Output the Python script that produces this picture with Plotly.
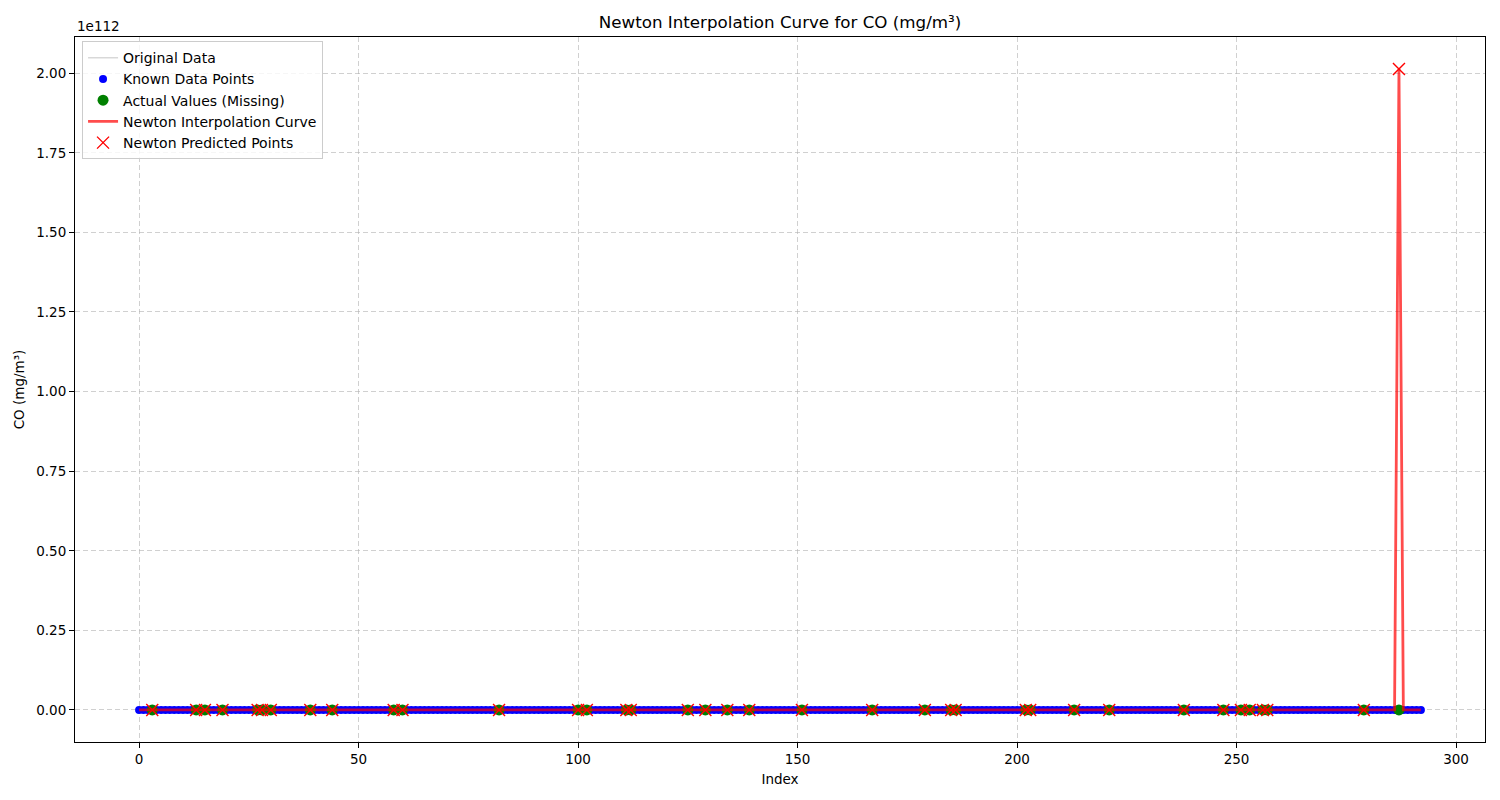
import plotly.graph_objects as go

# CO readings (mg/m³) by index
co_values = [
    1.2, 1.1, 1.0, 0.9, 0.8, 0.9, 1.1, 1.4, 1.6, 1.5, 1.3, 1.2, 1.1, 1.0, 0.9, 0.9, 1.0, 1.2, 1.3, 1.4,
    1.5, 1.6, 1.4, 1.2, 1.1, 1.0, 0.9, 0.8, 0.8, 0.9, 1.0, 1.2, 1.3, 1.5, 1.7, 1.6, 1.4, 1.3, 1.2, 1.1,
    1.0, 0.9, 0.8, 0.7, 0.7, 0.8, 0.9, 1.1, 1.2, 1.3, 1.3, 1.2, 1.1, 1.0, 0.9, 0.8, 0.8, 0.9, 1.0, 1.1,
    1.2, 1.4, 1.5, 1.6, 1.5, 1.3, 1.2, 1.1, 1.0, 0.9, 0.9, 1.0, 1.1, 1.3, 1.4, 1.5, 1.4, 1.3, 1.2, 1.1,
    1.0, 0.9, 0.8, 0.8, 0.9, 1.0, 1.1, 1.2, 1.4, 1.6, 1.8, 1.7, 1.5, 1.3, 1.2, 1.1, 1.0, 0.9, 0.9, 1.0,
    1.1, 1.2, 1.3, 1.3, 1.2, 1.1, 1.0, 0.9, 0.8, 0.7, 0.8, 0.9, 1.0, 1.1, 1.2, 1.4, 1.5, 1.5, 1.4, 1.3,
    1.2, 1.1, 1.0, 0.9, 0.9, 1.0, 1.1, 1.2, 1.3, 1.4, 1.6, 1.7, 1.6, 1.4, 1.3, 1.2, 1.1, 1.0, 0.9, 0.8,
    0.8, 0.9, 1.0, 1.1, 1.2, 1.3, 1.2, 1.1, 1.0, 0.9, 0.9, 1.0, 1.2, 1.4, 1.5, 1.6, 1.5, 1.3, 1.2, 1.1,
    1.0, 0.9, 0.8, 0.9, 1.0, 1.1, 1.3, 1.4, 1.5, 1.4, 1.3, 1.2, 1.1, 1.0, 0.9, 0.8, 0.8, 0.9, 1.0, 1.2,
    1.3, 1.5, 1.7, 1.8, 1.6, 1.4, 1.2, 1.1, 1.0, 0.9, 0.9, 1.0, 1.1, 1.2, 1.3, 1.3, 1.2, 1.1, 1.0, 0.9,
    0.8, 0.8, 0.9, 1.0, 1.1, 1.2, 1.4, 1.5, 1.6, 1.5, 1.4, 1.2, 1.1, 1.0, 0.9, 0.9, 1.0, 1.1, 1.3, 1.4,
    1.5, 1.4, 1.3, 1.2, 1.1, 1.0, 0.9, 0.8, 0.7, 0.8, 0.9, 1.0, 1.2, 1.3, 1.4, 1.6, 1.7, 1.6, 1.4, 1.3,
    1.2, 1.1, 1.0, 0.9, 0.9, 1.0, 1.1, 1.2, 1.3, 1.2, 1.1, 1.0, 0.9, 0.8, 0.8, 0.9, 1.1, 1.3, 1.5, 1.6,
    1.5, 1.3, 1.2, 1.1, 1.0, 0.9, 0.9, 1.0, 1.1, 1.2, 1.4, 1.5, 1.4, 1.3, 1.2, 1.1, 1.0, 0.9, 0.8, 0.9,
    1.0, 1.1, 1.2, 1.3, 1.2, 1.1, 1.0, 0.9, 0.9, 1.0, 1.1, 1.2, 1.1,
]

# indices that were treated as missing
missing_idx = [3, 13, 15, 19, 27, 28, 30, 39, 44, 58, 60, 82, 100, 102, 111, 112,
               125, 129, 134, 139, 151, 167, 179, 185, 186, 202, 203, 213, 221,
               238, 247, 251, 253, 256, 257, 279, 287]

# Newton interpolation results at the missing indices
newton_pred = [0.95, 1.02, 0.88, 1.38, 0.81, 0.84, 1.05, 1.12, 0.72, 1.04, 1.22,
               0.83, 1.15, 1.28, 0.83, 0.92, 1.05, 1.36, 1.48, 0.85, 1.05, 0.97,
               1.22, 1.12, 1.03, 1.62, 1.78, 1.08, 0.84, 1.04, 1.31, 1.25, 0.86,
               1.33, 1.25, 0.93, 2.013e112]

y_ticks = [0.0, 0.25e112, 0.5e112, 0.75e112, 1.0e112, 1.25e112, 1.5e112, 1.75e112, 2.0e112]
y_tick_text = ["0.00", "0.25", "0.50", "0.75", "1.00", "1.25", "1.50", "1.75", "2.00"]
x_ticks = [0, 50, 100, 150, 200, 250, 300]

index = list(range(len(co_values)))
missing_set = set(missing_idx)
known_x = [i for i in index if i not in missing_set]
known_y = [co_values[i] for i in known_x]
actual_missing = [co_values[i] for i in missing_idx]

curve_y = list(co_values)
for i, v in zip(missing_idx, newton_pred):
    curve_y[i] = v

fig = go.Figure()
fig.add_trace(go.Scatter(x=index, y=co_values, mode="lines", name="Original Data",
                         line=dict(color="rgba(128,128,128,0.45)", width=1)))
fig.add_trace(go.Scatter(x=known_x, y=known_y, mode="markers", name="Known Data Points",
                         marker=dict(color="blue", size=8)))
fig.add_trace(go.Scatter(x=missing_idx, y=actual_missing, mode="markers",
                         name="Actual Values (Missing)",
                         marker=dict(color="green", size=11)))
fig.add_trace(go.Scatter(x=index, y=curve_y, mode="lines", name="Newton Interpolation Curve",
                         line=dict(color="rgba(255,0,0,0.7)", width=2.8)))
fig.add_trace(go.Scatter(x=missing_idx, y=newton_pred, mode="markers",
                         name="Newton Predicted Points",
                         marker=dict(symbol="x-thin", size=12, color="red",
                                     line=dict(color="red", width=1.4))))

axis_style = dict(showline=True, linecolor="black", linewidth=1, mirror=True,
                  ticks="outside", ticklen=5, tickcolor="black", showgrid=True,
                  gridcolor="rgba(176,176,176,0.6)", griddash="5px,3px", gridwidth=1,
                  zeroline=False, tickfont=dict(size=13.5, color="black"))

fig.update_xaxes(range=[-14.6, 306.6], tickvals=x_ticks,
                 title=dict(text="Index", font=dict(size=13.5, color="black"), standoff=8),
                 **axis_style)
fig.update_yaxes(range=[-0.1006e112, 2.1136e112], tickvals=y_ticks, ticktext=y_tick_text,
                 title=dict(text="CO (mg/m³)", font=dict(size=13.5, color="black"), standoff=8),
                 **axis_style)

fig.add_annotation(text="1e112", xref="paper", yref="paper", x=0, y=1,
                   xanchor="left", yanchor="bottom", showarrow=False, yshift=1,
                   font=dict(size=13.5, color="black"))

# the page body adds an 8px margin, so the figure is sized to fit the window
fig.update_layout(
    width=1492, height=792,
    paper_bgcolor="white", plot_bgcolor="white",
    font=dict(family="DejaVu Sans", color="black"),
    title=dict(text="Newton Interpolation Curve for CO (mg/m³)", x=0.5, xref="paper",
               y=0.99, yanchor="top", font=dict(size=16.7, color="black")),
    margin=dict(l=67, r=15, t=29, b=58),
    legend=dict(x=0.005, y=0.994, xanchor="left", yanchor="top",
                bgcolor="rgba(255,255,255,0.8)", bordercolor="#cccccc", borderwidth=1,
                font=dict(size=14, color="black"), itemwidth=30),
    showlegend=True,
)

fig.write_html("out.html")
